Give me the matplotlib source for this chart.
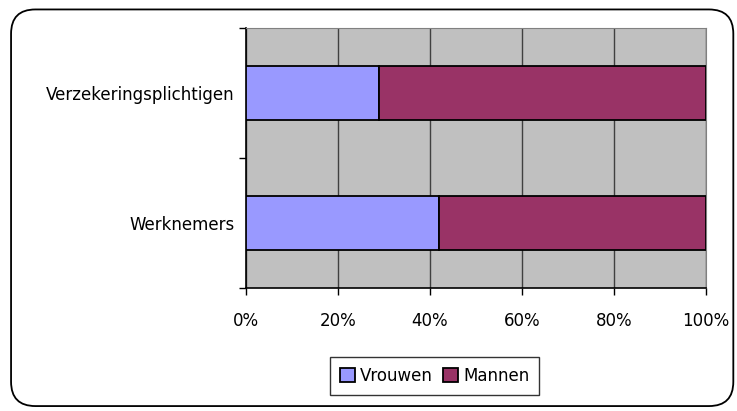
import matplotlib.pyplot as plt
from matplotlib.patches import FancyBboxPatch

categories = ['Werknemers', 'Verzekeringsplichtigen']
vrouwen = [42, 29]
mannen = [58, 71]
xticks = [0, 20, 40, 60, 80, 100]

plt.rcParams['font.family'] = ['DejaVu Sans']

fig = plt.figure(figsize=(7.37, 4.11), dpi=100)

# outer rounded frame, behind the axes
frame = FancyBboxPatch((0.015, 0.012), 0.98, 0.965, boxstyle='round,pad=0,rounding_size=0.033',
                       transform=fig.transFigure, facecolor='white', edgecolor='black',
                       linewidth=1.3, mutation_aspect=737 / 411, zorder=-1)
fig.patches.append(frame)

ax = fig.add_axes([0.3338, 0.2993, 0.6242, 0.6326])
ax.set_facecolor('#c0c0c0')

y = range(len(categories))
ax.barh(y, vrouwen, height=0.41, color='#9999ff', edgecolor='black', linewidth=1.3, label='Vrouwen', zorder=3)
ax.barh(y, mannen, left=vrouwen, height=0.41, color='#993366', edgecolor='black', linewidth=1.3, label='Mannen', zorder=3)

ax.set_xlim(0, 100)
ax.set_ylim(-0.5, 1.5)
ax.set_xticks(xticks)
ax.set_xticklabels([f'{v}%' for v in xticks], fontsize=12)
ax.set_yticks([-0.5, 0.5, 1.5])
ax.set_yticks(list(y), minor=True)
ax.set_yticklabels([])
ax.set_yticklabels(categories, minor=True, fontsize=12)
ax.tick_params(axis='y', which='minor', length=0, pad=8)
ax.tick_params(axis='y', which='major', length=5, width=1, direction='out')
ax.tick_params(axis='x', length=5, width=1, direction='out', pad=12)
ax.grid(axis='x', color='#404040', linewidth=1, zorder=1)
ax.set_axisbelow(True)

for s in ['top', 'right']:
    ax.spines[s].set_color('#808080')
for s in ['left', 'bottom']:
    ax.spines[s].set_color('black')
    ax.spines[s].set_linewidth(1.2)

leg = fig.legend(loc='center', bbox_to_anchor=(0.59, 0.085), ncol=2, fontsize=12,
                 frameon=True, fancybox=False, edgecolor='black', handlelength=0.9,
                 handleheight=0.9, handletextpad=0.3, columnspacing=0.6, borderpad=0.6)
leg.get_frame().set_linewidth(1)

fig.savefig('out.png', dpi=100)
